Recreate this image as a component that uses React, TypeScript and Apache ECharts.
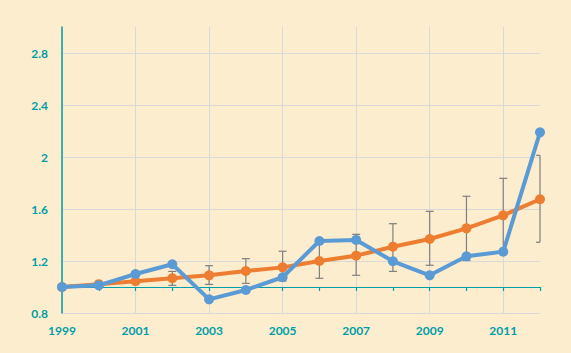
import React, { useEffect, useRef } from "react";
import * as echarts from "echarts";

const years = ["1999", "2000", "2001", "2002", "2003", "2004", "2005", "2006", "2007", "2008", "2009", "2010", "2011", "2012"];
const blueValues = [1.0, 1.013, 1.1, 1.175, 0.905, 0.977, 1.075, 1.354, 1.362, 1.198, 1.09, 1.236, 1.272, 2.19];
const orangeValues = [1.0, 1.022, 1.044, 1.067, 1.09, 1.123, 1.151, 1.2, 1.241, 1.31, 1.369, 1.451, 1.551, 1.675];
// [category index, low, high]
const errorBars = [
  [3, 1.013, 1.12],
  [4, 1.02, 1.164],
  [5, 1.028, 1.218],
  [6, 1.046, 1.275],
  [7, 1.067, 1.333],
  [8, 1.09, 1.405],
  [9, 1.12, 1.487],
  [10, 1.167, 1.582],
  [11, 1.204, 1.698],
  [12, 1.266, 1.836],
  [13, 1.344, 2.013],
];
const yMin = 0.8;
const yMax = 3.0;
const yInterval = 0.4;

const TEAL = "#009DA8";
const BLUE = "#5B9BD5";
const ORANGE = "#ED7D31";
const GRIDC = "#D9D9D9";

export default function App() {
  const ref = useRef<HTMLDivElement>(null);
  useEffect(() => {
    const chart = echarts.init(ref.current!, null, { renderer: "svg" });
    const lastIdx = years.length - 1;
    chart.setOption({
      animation: false,
      backgroundColor: "#FDEDCF",
      grid: { left: 62, right: 31, top: 27, bottom: 40 },
      xAxis: [
        {
          type: "category",
          data: years,
          boundaryGap: false,
          axisLine: { show: false },
          axisTick: { show: false },
          axisLabel: {
            interval: 1,
            color: TEAL,
            fontFamily: "Lato",
            fontWeight: "bold",
            fontSize: 12,
            margin: 11,
          },
          splitLine: { show: true, interval: 1, lineStyle: { color: GRIDC, width: 1 } },
        },
        {
          type: "category",
          data: years,
          boundaryGap: false,
          position: "bottom",
          offset: -26,
          axisLine: { show: true, lineStyle: { color: TEAL, width: 1.2 } },
          axisTick: { show: true, interval: 0, length: 4, lineStyle: { color: TEAL, width: 1.2 } },
          axisLabel: { show: false },
          splitLine: { show: false },
        },
      ],
      yAxis: {
        type: "value",
        min: yMin,
        max: yMax,
        interval: yInterval,
        axisLine: { show: true, lineStyle: { color: TEAL, width: 1.5 } },
        axisTick: { show: false },
        axisLabel: {
          showMaxLabel: false,
          color: TEAL,
          fontFamily: "Lato",
          fontWeight: "bold",
          fontSize: 12,
          margin: 14,
        },
        splitLine: {
          show: true,
          lineStyle: { color: [GRIDC, GRIDC, GRIDC, GRIDC, GRIDC, GRIDC, "transparent"], width: 1 },
        },
      },
      series: [
        {
          type: "custom",
          xAxisIndex: 0,
          z: 1,
          data: errorBars,
          renderItem: (params: any, api: any) => {
            const idx = api.value(0);
            const lo = api.coord([idx, api.value(1)]);
            const hi = api.coord([idx, api.value(2)]);
            const cap = 4;
            const right = idx === lastIdx ? 0 : cap;
            const style = { stroke: "#7F7F7F", lineWidth: 1.2 };
            return {
              type: "group",
              children: [
                { type: "line", shape: { x1: lo[0], y1: lo[1], x2: hi[0], y2: hi[1] }, style },
                { type: "line", shape: { x1: lo[0] - cap, y1: lo[1], x2: lo[0] + right, y2: lo[1] }, style },
                { type: "line", shape: { x1: hi[0] - cap, y1: hi[1], x2: hi[0] + right, y2: hi[1] }, style },
              ],
            };
          },
        },
        {
          type: "line",
          xAxisIndex: 0,
          z: 3,
          data: orangeValues,
          symbol: "circle",
          symbolSize: 10,
          lineStyle: { color: ORANGE, width: 4 },
          itemStyle: { color: ORANGE },
        },
        {
          type: "line",
          xAxisIndex: 0,
          z: 4,
          data: blueValues,
          symbol: "circle",
          symbolSize: 10,
          lineStyle: { color: BLUE, width: 4 },
          itemStyle: { color: BLUE },
        },
      ],
    });
    return () => chart.dispose();
  }, []);
  return <div ref={ref} style={{ width: 571, height: 353, position: "absolute", left: 0, top: 0 }} />;
}
